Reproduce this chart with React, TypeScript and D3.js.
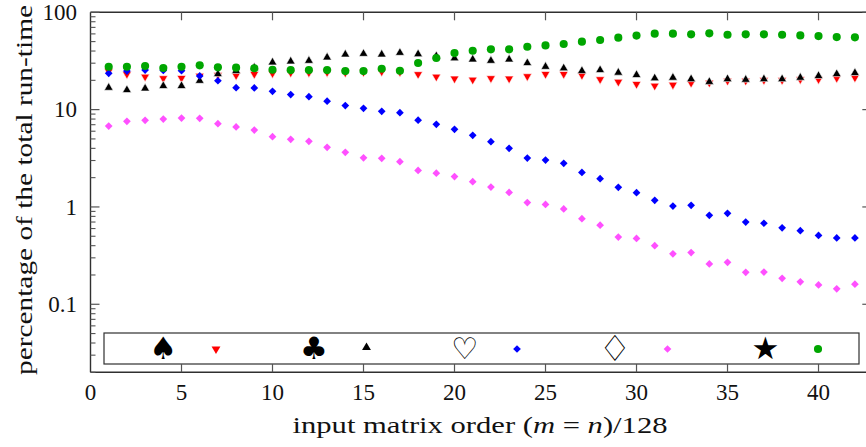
import React from "react";
import * as d3 from "d3";

const orders = [1,2,3,4,5,6,7,8,9,10,11,12,13,14,15,16,17,18,19,20,21,22,23,24,25,26,27,28,29,30,31,32,33,34,35,36,37,38,39,40,41,42];

const spade = [24.7,23.2,21.8,21.0,21.1,22.2,22.7,22.5,23.2,23.6,24.0,24.0,24.2,24.0,24.3,24.6,24.3,23.1,21.8,20.8,20.3,21.0,20.8,22.0,23.2,23.2,22.6,20.5,19.3,18.3,17.6,18.0,18.8,18.9,19.8,19.8,20.1,20.1,20.5,20.5,21.1,21.3];
const club = [16.8,15.9,16.5,17.5,17.5,19.8,23.2,25.0,27.0,30.6,31.3,31.8,34.4,36.9,37.5,36.9,38.4,37.2,35.5,33.7,32.8,31.8,32.8,30.1,27.6,26.6,25.0,25.5,24.0,22.7,21.0,21.3,20.6,19.3,20.6,20.3,20.6,20.6,21.3,22.2,23.2,23.8];
const heart = [23.6,24.9,25.5,25.3,25.1,22.2,19.8,16.8,16.7,15.4,14.3,13.6,12.2,11.0,10.3,9.6,9.3,7.8,7.06,6.27,5.44,4.68,4.0,3.18,3.03,2.81,2.26,1.95,1.59,1.40,1.17,1.02,1.04,0.82,0.86,0.70,0.68,0.61,0.57,0.51,0.48,0.48];
const diamond = [6.77,7.58,7.76,8.0,8.2,8.13,7.16,6.63,6.17,5.27,4.95,4.72,4.10,3.64,3.2,3.16,2.92,2.37,2.22,2.05,1.82,1.60,1.41,1.11,1.06,0.955,0.757,0.65,0.49,0.475,0.40,0.33,0.34,0.26,0.27,0.213,0.214,0.185,0.170,0.158,0.144,0.161];
const star = [27.6,27.6,28.1,26.8,27.6,28.5,27.2,27.0,26.6,25.7,25.5,25.5,25.5,24.9,24.9,26.3,25.1,30.1,33.9,38.1,40.3,41.6,41.6,44.3,45.7,47.2,49.9,51.9,54.9,57.6,60.3,60.3,59.4,60.8,58.8,59.4,59.4,58.8,57.9,57.0,55.6,55.3];

const seriesNames = ["\u2660", "\u2663", "\u2661", "\u2662", "\u2605"];
const xTicks = [0, 5, 10, 15, 20, 25, 30, 35, 40];
const yTicks = [0.1, 1, 10, 100];
const yTickLabels = ["0.1", "1", "10", "100"];

const W = 866, H = 447;
const left = 90.5, right = 871.3, top = 12.3, bottom = 372.3;

export default function App() {
  const x = d3.scaleLinear().domain([0, 42.9]).range([left, right]);
  const y = d3.scaleLog().domain([0.02, 100]).range([bottom, top]);

  const triUp = d3.symbol().type(d3.symbolTriangle).size(34)()!;
  const diam = d3.symbol().type(d3.symbolSquare).size(30)()!;
  const circ = d3.symbol().type(d3.symbolCircle).size(52)()!;

  const series = [
    { name: seriesNames[0], data: spade, color: "#ff0000", path: triUp, rot: 180, stroke: "#fff" },
    { name: seriesNames[1], data: club, color: "#000000", path: triUp, rot: 0, stroke: "#fff" },
    { name: seriesNames[2], data: heart, color: "#0000ff", path: diam, rot: 45, stroke: "none" },
    { name: seriesNames[3], data: diamond, color: "#ff50ff", path: diam, rot: 45, stroke: "none" },
    { name: seriesNames[4], data: star, color: "#00a600", path: circ, rot: 0, stroke: "none" },
  ];
  const legendSizes = [31, 31, 30, 36, 31];

  const minor: number[] = [];
  for (let e = -2; e < 2; e++) {
    for (let m = 2; m <= 9; m++) {
      const v = m * Math.pow(10, e);
      if (v >= 0.02 && v < 100) minor.push(v);
    }
  }

  const font = "Liberation Serif, Times New Roman, Times, serif";
  const axisColor = "#303030";
  const txt = { fontFamily: font };

  return (
    <svg width={W} height={H} style={{ position: "absolute", left: 0, top: 0, background: "#fff" }}>
      <rect x={0} y={0} width={W} height={H} fill="#fff" />
      {/* frame */}
      <line x1={left} x2={left} y1={top} y2={bottom} stroke={axisColor} strokeWidth={1.4} />
      <line x1={left} x2={right} y1={top} y2={top} stroke={axisColor} strokeWidth={1.4} />
      <line x1={left} x2={right} y1={bottom} y2={bottom} stroke={axisColor} strokeWidth={1.4} />
      <line x1={right} x2={right} y1={top} y2={bottom} stroke={axisColor} strokeWidth={1.4} />
      {/* x ticks */}
      {xTicks.filter((t) => t > 0).map((t) => (
        <g key={"xt" + t}>
          <line x1={x(t)} x2={x(t)} y1={bottom} y2={bottom - 8} stroke="#555" strokeWidth={1.2} />
          <line x1={x(t)} x2={x(t)} y1={top} y2={top + 8} stroke="#555" strokeWidth={1.2} />
        </g>
      ))}
      {xTicks.map((t) => (
        <text key={"xl" + t} x={x(t)} y={400} textAnchor="middle" fontSize={23} fill="#111" style={txt}>{t}</text>
      ))}
      {/* y ticks */}
      {yTicks.map((t, i) => (
        <g key={"yt" + t}>
          <line x1={left} x2={left + 9} y1={y(t)} y2={y(t)} stroke="#555" strokeWidth={1.2} />
          <line x1={right} x2={right - 9} y1={y(t)} y2={y(t)} stroke="#555" strokeWidth={1.2} />
          <text x={77} y={y(t) + 7.7} textAnchor="end" fontSize={23} fill="#111" style={txt}>{yTickLabels[i]}</text>
        </g>
      ))}
      {minor.map((t) => (
        <g key={"ym" + t}>
          <line x1={left} x2={left + 5} y1={y(t)} y2={y(t)} stroke="#555" strokeWidth={1.1} />
          <line x1={right} x2={right - 5} y1={y(t)} y2={y(t)} stroke="#555" strokeWidth={1.1} />
        </g>
      ))}
      {/* axis labels */}
      <text x={480} y={433} textAnchor="middle" fontSize={23} fill="#111" style={txt} textLength={375} lengthAdjust="spacingAndGlyphs">
        input matrix order (<tspan fontStyle="italic">m</tspan> = <tspan fontStyle="italic">n</tspan>)/128
      </text>
      <text transform="translate(32,190) rotate(-90)" textAnchor="middle" fontSize={23} fill="#111" style={txt} textLength={370} lengthAdjust="spacingAndGlyphs">
        percentage of the total run-time
      </text>
      {/* data */}
      {series.map((s) => (
        <g key={"s" + s.name}>
          {s.data.map((v, i) => (
            <path key={i} d={s.path} fill={s.color} stroke={s.stroke} strokeWidth={s.stroke === "none" ? 0 : 0.6}
              transform={`translate(${x(orders[i])},${y(v)}) rotate(${s.rot})`} />
          ))}
        </g>
      ))}
      {/* legend */}
      <rect x={104} y={333} width={755} height={31} fill="#fff" stroke={axisColor} strokeWidth={1.2} />
      {series.map((s, i) => {
        const cx = 163.5 + i * 150.5;
        return (
          <g key={"lg" + i}>
            <text x={cx} y={i === 3 ? 361 : 359} textAnchor="middle" fontSize={legendSizes[i]} style={{ fontFamily: "DejaVu Sans, sans-serif" }} fill="#000">{s.name}</text>
            <path d={s.path} fill={s.color} transform={`translate(${cx + 52.5},${i === 1 ? 347.5 : 349}) rotate(${s.rot})`} />
          </g>
        );
      })}
    </svg>
  );
}
